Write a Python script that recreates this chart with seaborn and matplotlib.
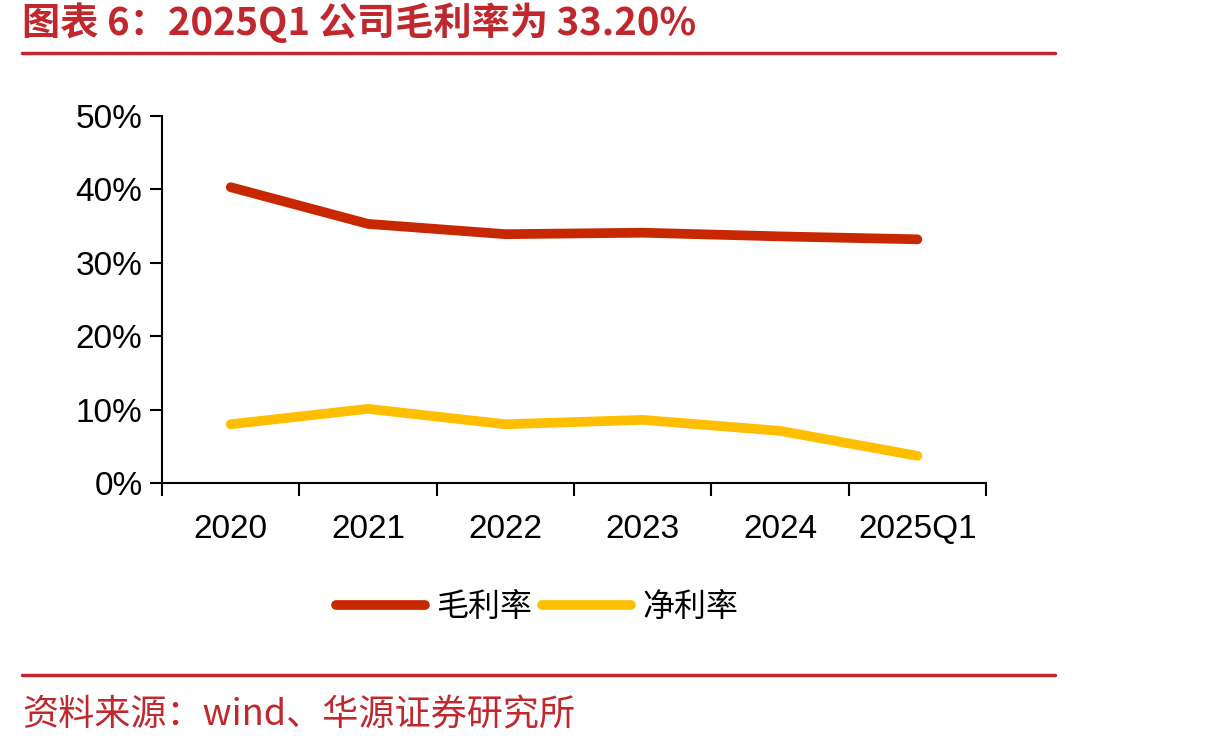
import numpy as np
import pandas as pd
import seaborn as sns
import matplotlib.pyplot as plt
from matplotlib.lines import Line2D

periods = ["2020", "2021", "2022", "2023", "2024", "2025Q1"]
gross_margin = [40.3, 35.3, 33.9, 34.1, 33.6, 33.2]
net_margin = [8.0, 10.1, 8.0, 8.6, 7.1, 3.7]
series_names = ["毛利率", "净利率"]
colors = ["#C82800", "#FFBF00"]
title_text = "图表 6：2025Q1 公司毛利率为 33.20%"
source_text = "资料来源：wind、华源证券研究所"

df = pd.DataFrame({
    "period": periods * 2,
    "value": np.array(gross_margin + net_margin) / 100,
    "series": [series_names[0]] * len(periods) + [series_names[1]] * len(periods),
})

sns.set_style("white")
plt.rcParams["font.family"] = ["Liberation Sans", "Noto Sans CJK SC", "DejaVu Sans"]
plt.rcParams["text.color"] = "black"

fig = plt.figure(figsize=(12.1, 7.48), dpi=100)
ax = fig.add_axes([0.1339, 0.3543, 0.681, 0.4906])

sns.lineplot(data=df, x="period", y="value", hue="series", palette=colors,
             linewidth=7, ax=ax, legend=False, solid_capstyle="round")

ax.set_xlim(-0.5, len(periods) - 0.5)
ax.set_ylim(0, 0.5)
ax.set_yticks(np.arange(0, 0.51, 0.1))
ax.set_yticklabels([f"{int(round(v * 100))}%" for v in np.arange(0, 0.51, 0.1)])
ax.set_xticks(range(len(periods)))
ax.set_xticklabels(periods)
ax.set_xticks(np.arange(-0.5, len(periods)), minor=True)
ax.tick_params(axis="x", which="major", bottom=True, length=0, pad=22,
               labelsize=24, labelcolor="black")
ax.tick_params(axis="x", which="minor", bottom=True, length=9, width=1.5,
               direction="out", color="black")
ax.tick_params(axis="y", left=True, length=9, width=1.5, direction="out",
               color="black", labelsize=24, labelcolor="black", pad=5)
ax.set_xlabel("")
ax.set_ylabel("")
for side in ["top", "right"]:
    ax.spines[side].set_visible(False)
for side in ["left", "bottom"]:
    ax.spines[side].set_color("black")
    ax.spines[side].set_linewidth(1.5)

handles = [Line2D([0], [0], color=c, lw=7, solid_capstyle="round") for c in colors]
fig.legend(handles, series_names, loc="center", bbox_to_anchor=(0.444, 0.188), ncol=2,
           frameon=False, handlelength=2.8, handletextpad=0.35, columnspacing=0.3,
           labelcolor="black", prop={"family": ["Noto Sans CJK SC"], "size": 23})

red = "#C0282D"
fig.text(0.018, 0.970, title_text, color=red, fontsize=27.5, fontweight="bold",
         family=["Noto Sans CJK SC", "DejaVu Sans"], va="center", ha="left")
fig.add_artist(Line2D([0.018, 0.872], [0.929, 0.929], color=red, lw=2.5, transform=fig.transFigure))
fig.add_artist(Line2D([0.018, 0.872], [0.098, 0.098], color=red, lw=2.5, transform=fig.transFigure))
fig.text(0.018, 0.044, source_text, color=red, fontsize=26,
         family=["Noto Sans CJK SC", "DejaVu Sans"], va="center", ha="left")

fig.savefig("out.png", dpi=100)
